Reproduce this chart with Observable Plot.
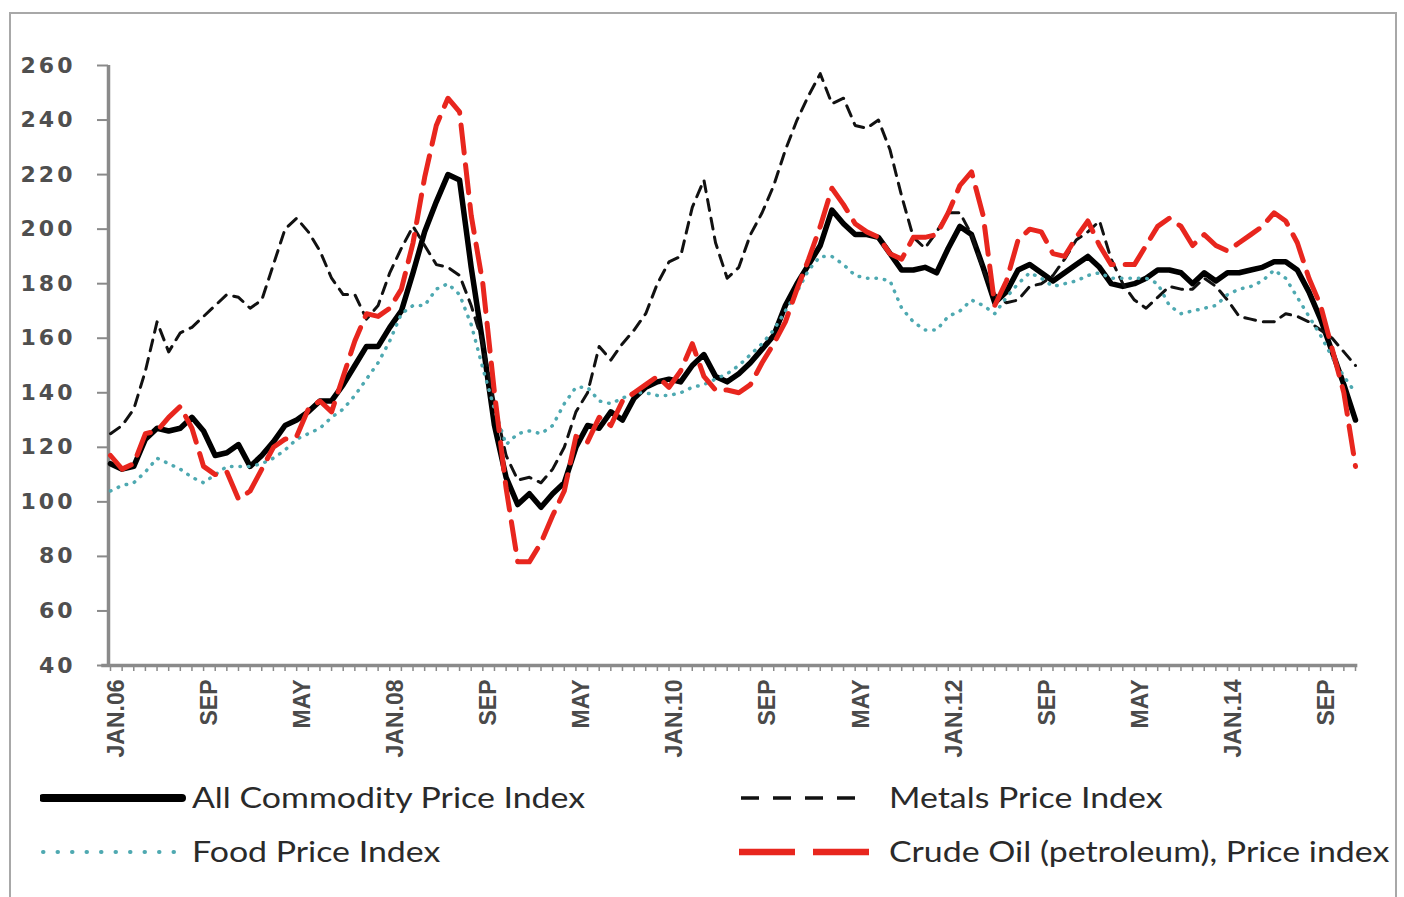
<!DOCTYPE html>
<html>
<head>
<meta charset="utf-8">
<script src="https://cdn.jsdelivr.net/npm/d3@7"></script>
<script src="https://cdn.jsdelivr.net/npm/@observablehq/plot@0.6"></script>
<style>
  html, body { margin: 0; padding: 0; background: #fff; }
  #wrap { position: relative; width: 1404px; height: 897px; overflow: hidden; background: #fff; }
  #frame { position: absolute; left: 9px; top: 12px; width: 1388px; height: 900px; border: 2.5px solid #a8a8a8; box-sizing: border-box; pointer-events: none; }
  #chart { position: absolute; left: 0; top: 0; }
  g[aria-label="y-axis tick label"] text { letter-spacing: 3px; }
  .leg { position: absolute; font-family: Lato, "Open Sans", sans-serif; font-size: 28px; color: #2a2a2a; white-space: nowrap; line-height: 1; transform: scaleX(1.21); transform-origin: 0 50%; }
  .sw { position: absolute; }
</style>
</head>
<body>
<div id="wrap">
  <div id="chart"></div>
  <div id="legend"></div>
  <div id="frame"></div>
</div>
<script>
// ---- categories (monthly, Jan 2006 .. Dec 2014) ----
const monthCount = 108;
const months = d3.utcMonth.range(new Date(Date.UTC(2006, 0, 1)), new Date(Date.UTC(2015, 0, 1)))
  .map(d => d3.utcFormat("%Y-%m")(d));

// ---- x tick labels (every 8 months) ----
const tickMonths = ["2006-01","2006-09","2007-05","2008-01","2008-09","2009-05","2010-01","2010-09","2011-05","2012-01","2012-09","2013-05","2014-01","2014-09"];
const tickLabels = ["JAN.06","SEP","MAY","JAN.08","SEP","MAY","JAN.10","SEP","MAY","JAN.12","SEP","MAY","JAN.14","SEP"];
const yTicks = [40,60,80,100,120,140,160,180,200,220,240,260];

// ---- series values ----
const allCommodity = [
  114,112,113,123,127,126,127,131,126,117,118,121,
  113,117,122,128,130,133,137,137,143,150,157,157,
  164,170,184,199,210,220,218,186,158,128,109,99,
  103,98,103,107,120,128,127,133,130,138,142,144,
  145,144,150,154,146,144,147,151,156,161,172,180,
  187,194,207,202,198,198,197,191,185,185,186,184,
  193,201,198,186,173,177,185,187,184,181,184,187,
  190,186,180,179,180,182,185,185,184,180,184,181,
  184,184,185,186,188,188,185,177,167,155,143,130
];
const metals = [
  125,128,134,148,166,155,162,164,168,172,176,175,
  171,174,187,200,204,199,192,182,176,176,167,172,
  184,193,201,194,187,186,183,172,158,136,117,108,
  109,107,112,120,133,140,157,152,158,163,169,180,
  188,190,208,218,195,182,186,198,206,216,229,240,
  249,257,246,248,238,237,240,229,212,197,193,199,
  206,206,198,185,176,173,174,179,180,183,189,196,
  199,203,189,180,174,171,175,179,178,178,182,179,
  174,168,167,166,166,169,168,166,163,160,155,150
];
const food = [
  104,106,107,111,116,114,112,109,107,110,113,113,
  113,114,116,119,123,125,127,131,134,139,145,151,
  159,169,172,172,178,180,176,165,149,134,121,125,
  126,125,128,136,142,142,137,136,138,140,140,139,
  139,140,142,143,145,147,150,154,158,163,170,177,
  185,190,190,187,183,182,182,181,171,166,163,163,
  168,170,174,172,169,175,180,184,182,179,180,181,
  183,184,182,182,182,182,180,172,169,170,171,172,
  176,178,179,181,185,182,175,168,161,153,146,140
];
const crudeOil = [
  117,112,114,125,126,131,135,127,113,110,111,101,
  104,112,120,123,124,134,137,133,146,159,169,168,
  171,178,195,219,238,248,243,205,180,140,105,78,
  78,85,95,104,124,122,131,128,137,140,143,146,
  142,148,158,146,141,141,140,143,151,158,166,178,
  189,201,215,209,202,199,197,191,189,197,197,198,
  206,216,221,205,172,181,196,200,199,191,190,197,
  203,194,187,187,187,194,201,204,201,194,198,194,
  192,195,198,201,206,203,195,182,172,156,140,113
];

const seriesNames = ["All Commodity Price Index","Metals Price Index","Food Price Index","Crude Oil (petroleum), Price index"];
const seriesValues = [allCommodity, metals, food, crudeOil];

const rows = [];
seriesValues.forEach((vals, s) => vals.forEach((v, i) => rows.push({series: seriesNames[s], i, month: months[i], value: v})));
const bySeries = name => rows.filter(r => r.series === name);

const styles = {
  "All Commodity Price Index": {stroke: "#000", strokeWidth: 5.5},
  "Metals Price Index": {stroke: "#111", strokeWidth: 3, strokeDasharray: "11,8"},
  "Food Price Index": {stroke: "#4ea9b1", strokeWidth: 3.5, strokeDasharray: "0.5,8", strokeLinecap: "round"},
  "Crude Oil (petroleum), Price index": {stroke: "#e8261e", strokeWidth: 5, strokeDasharray: "28,12"}
};

const tickIdx = tickMonths.map(m => months.indexOf(m));

const chart = Plot.plot({
  width: 1404,
  height: 775,
  marginLeft: 110,
  marginRight: 49,
  marginTop: 65,
  marginBottom: 110,
  style: {background: "transparent", overflow: "visible"},
  x: {type: "linear", domain: [0, monthCount - 1], axis: null, label: null},
  y: {domain: [40, 260], axis: null, label: null},
  marks: [
    // minor month ticks
    Plot.axisX({ticks: d3.range(monthCount), tickSize: 6, tickFormat: () => "", stroke: "#8a8a8a", strokeWidth: 1.5, label: null}),
    // labels
    Plot.axisX({ticks: tickIdx, tickFormat: d => tickLabels[tickIdx.indexOf(d)], tickRotate: -90, tickSize: 0, tickPadding: 14,
      fontSize: 23, fontWeight: "bold", fontFamily: "'Liberation Sans Narrow', 'Liberation Sans', Arial, sans-serif", fill: "#4a4a4a", dx: 6, label: null}),
    Plot.axisY({ticks: yTicks, tickSize: 11, tickPadding: 22, tickFormat: d => String(d), fontSize: 22, fontWeight: "bold",
      fontFamily: "'DejaVu Sans', Verdana, sans-serif", fill: "#4f4f4f", stroke: "#8a8a8a", strokeWidth: 2, dx: -2, label: null}),
    Plot.ruleY([40], {x1: -0.75, x2: monthCount - 1 + 0.2, stroke: "#8a8a8a", strokeWidth: 3.5}),
    Plot.ruleX([0], {dx: -2, stroke: "#8a8a8a", strokeWidth: 3.5}),
    ...seriesNames.map(name => Plot.line(bySeries(name), {x: "i", y: "value", curve: "linear", strokeLinejoin: "round", ...styles[name]}))
  ]
});
document.getElementById("chart").appendChild(chart);

// ---- legend ----
const legend = document.getElementById("legend");
const legendItems = [
  {name: seriesNames[0], sx: 40, tx: 192, cy: 798, w: 142},
  {name: seriesNames[1], sx: 738, tx: 889, cy: 798, w: 128},
  {name: seriesNames[2], sx: 40, tx: 192, cy: 852, w: 140},
  {name: seriesNames[3], sx: 736, tx: 889, cy: 852, w: 146}
];
const legendDash = {
  [seriesNames[0]]: {sw: 8, dash: null, cap: "round"},
  [seriesNames[1]]: {sw: 3.5, dash: "18,14", cap: "butt"},
  [seriesNames[2]]: {sw: 4, dash: "0.5,14", cap: "round"},
  [seriesNames[3]]: {sw: 6.5, dash: "56,18", cap: "butt"}
};
legendItems.forEach(it => {
  const st = styles[it.name], ld = legendDash[it.name];
  const svg = d3.create("svg").attr("class", "sw").attr("width", it.w + 6).attr("height", 20)
    .style("left", it.sx + "px").style("top", (it.cy - 10) + "px");
  svg.append("line").attr("x1", 3).attr("x2", it.w).attr("y1", 10).attr("y2", 10)
    .attr("stroke", st.stroke).attr("stroke-width", ld.sw).attr("stroke-linecap", ld.cap)
    .attr("stroke-dasharray", ld.dash);
  legend.appendChild(svg.node());
  const t = document.createElement("div");
  t.className = "leg";
  t.textContent = it.name;
  t.style.left = it.tx + "px";
  t.style.top = (it.cy - 15) + "px";
  legend.appendChild(t);
});
</script>
</body>
</html>
